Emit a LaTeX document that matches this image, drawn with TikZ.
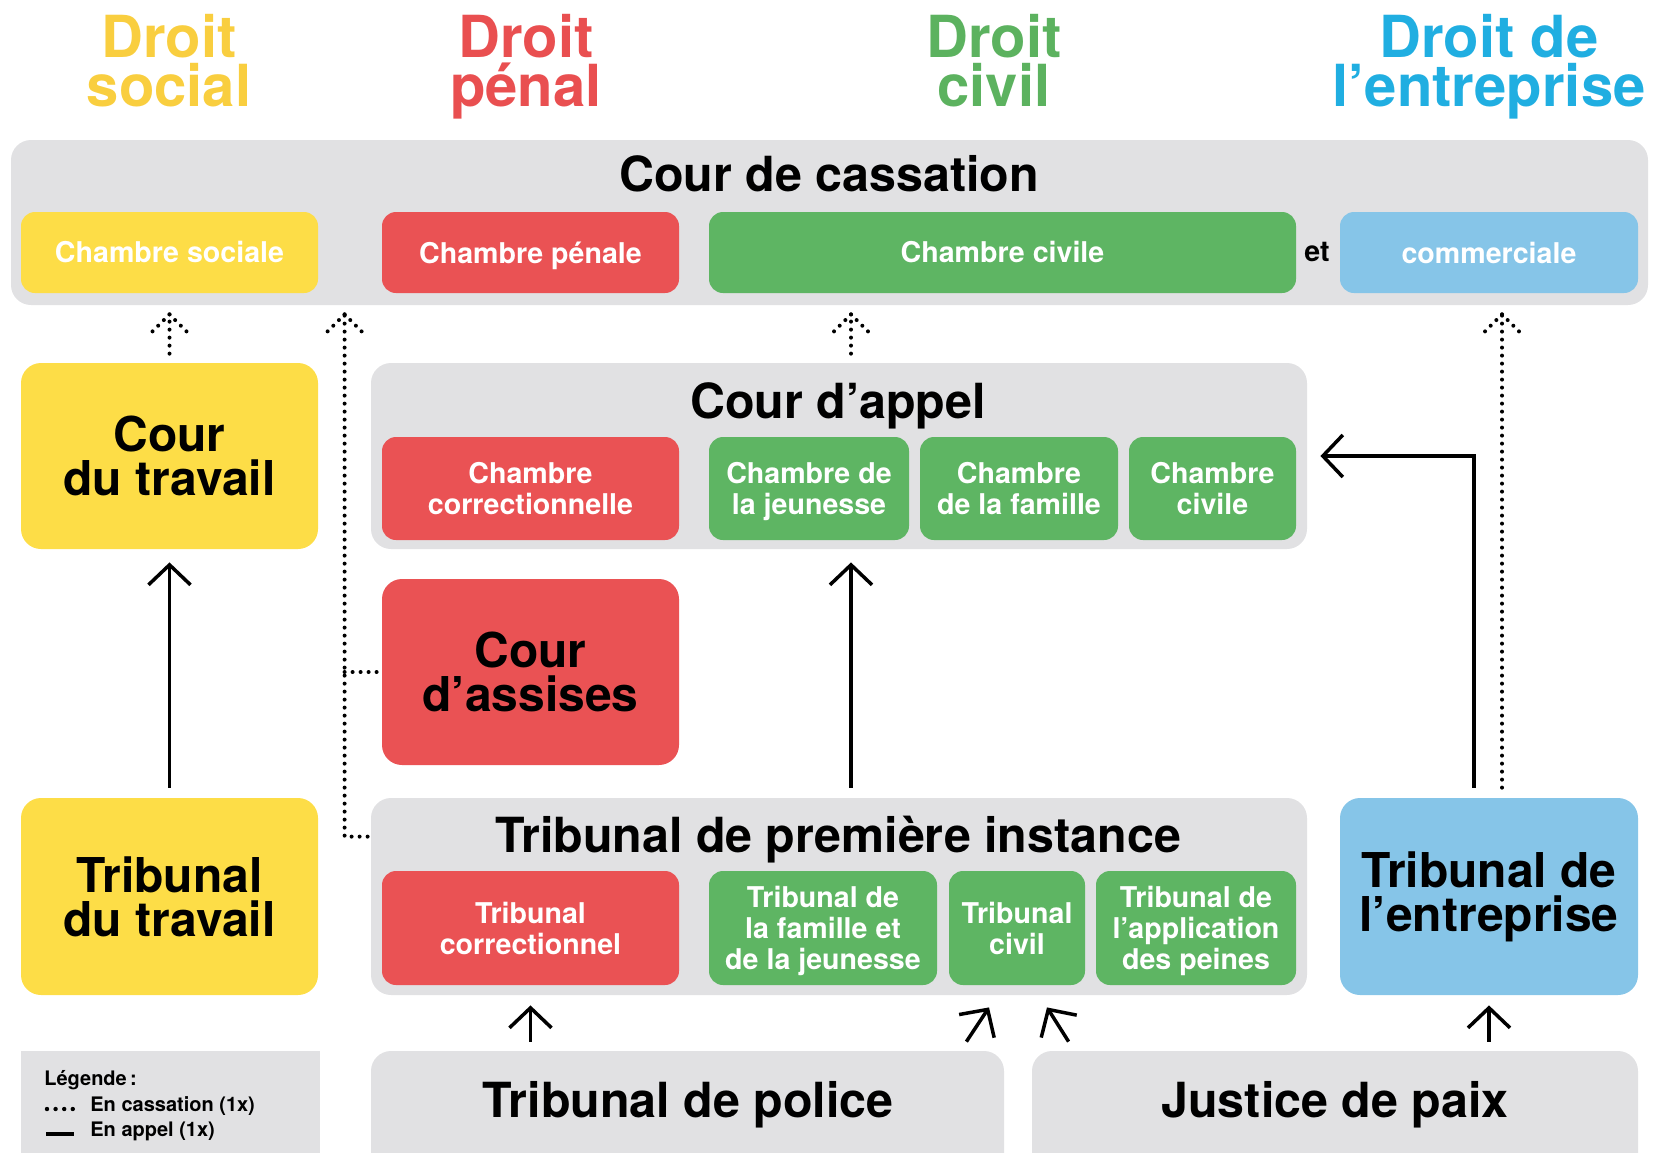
\documentclass[tikz,border=0pt]{standalone}
\usepackage{fontspec}
\setmainfont{TeX Gyre Heros}
\usepackage{tikz}
\usetikzlibrary{arrows.meta,fit,calc}
\definecolor{jgyellow}{HTML}{FDDD47}
\definecolor{jgred}{HTML}{EA5254}
\definecolor{jggreen}{HTML}{5EB563}
\definecolor{jgblue}{HTML}{86C5E8}
\definecolor{jggray}{HTML}{E1E1E3}
\definecolor{hdyellow}{HTML}{F9CE3F}
\definecolor{hdred}{HTML}{E94F50}
\definecolor{hdgreen}{HTML}{5CB25F}
\definecolor{hdblue}{HTML}{20AEE1}
% text without its descender depth
\newcommand{\nod}[1]{\raisebox{0pt}[\height][0pt]{#1}}
% dotted shaft with a dotted chevron at its tip
\newcommand{\cassup}[2]{%
  \draw[cass] (#1) -- (#2);
  \draw[cass] (#2) -- +(-19,19);
  \draw[cass] (#2) -- +(19,19);}

\begin{document}
\begin{tikzpicture}[x=0.5pt,y=-0.5pt,
  gbox/.style={fill=jggray,rounded corners=10pt,inner sep=0pt},
  cbox/.style={rounded corners=7pt,inner sep=0pt,
    label={[inner sep=0pt,text=white,align=center,
      font=\bfseries\fontsize{14.3}{15.5}\selectfont]center:#1}},
  bigbox/.style={rounded corners=10pt,inner sep=0pt,
    label={[inner sep=0pt,align=center,
      font=\bfseries\fontsize{24}{22}\selectfont]center:#1}},
  ttl/.style={anchor=base,inner sep=0pt,font=\bfseries\fontsize{24.2}{24}\selectfont},
  hdr/.style={anchor=north,inner sep=0pt,align=center,
    font=\bfseries\fontsize{29}{24.5}\selectfont},
  leg/.style={anchor=base west,inner sep=0pt,font=\bfseries\fontsize{10}{12}\selectfont},
  appel/.style={line width=1.75pt,-{Straight Barb[length=10pt,width=21pt]}},
  cass/.style={line width=2pt,line cap=round,dash pattern=on 0pt off 4pt}]
  \useasboundingbox (0,0) rectangle (1659,1152);
  \clip (0,0) rectangle (1659,1152);
  % branches
  \node[hdr,text=hdyellow] (hsoc) at (169,14) {Droit\\social};
  \node[hdr,text=hdred] (hpen) at (526,14) {Droit\\pénal};
  \node[hdr,text=hdgreen] (hciv) at (994,14) {Droit\\civil};
  \node[hdr,text=hdblue] (hent) at (1489,14) {Droit de\\l’entreprise};
  % Cour de cassation
  \node[gbox,fit={(11,140)(1648,305)}] (cass) {};
  \node[ttl] (casst) at (829,191) {Cour de cassation};
  \node[cbox={Chambre sociale},fill=jgyellow,fit={(21,212)(318,293)}] (chsoc) {};
  \node[cbox={\nod{Chambre pénale}},fill=jgred,fit={(382,212)(679,293)}] (chpen) {};
  \node[cbox={Chambre civile},fill=jggreen,fit={(709,212)(1296,293)}] (chciv) {};
  \node[inner sep=0pt,font=\bfseries\fontsize{14.3}{15.5}\selectfont] (et) at (1317,252) {et};
  \node[cbox={commerciale},fill=jgblue,fit={(1340,212)(1638,293)}] (chcom) {};
  % appeal level
  \node[bigbox={Cour\\du travail},fill=jgyellow,fit={(21,363)(318,549)}] (ctrav) {};
  \node[gbox,fit={(371,363)(1307,549)}] (cappel) {};
  \node[ttl] (cappelt) at (838,418) {Cour d’appel};
  \node[cbox={Chambre\\correctionnelle},fill=jgred,fit={(382,437)(679,540)}] (chcorr) {};
  \node[cbox={Chambre de\\\nod{la jeunesse}},fill=jggreen,fit={(709,437)(909,540)}] (chjeun) {};
  \node[cbox={Chambre\\de la famille},fill=jggreen,fit={(920,437)(1118,540)}] (chfam) {};
  \node[cbox={Chambre\\civile},fill=jggreen,fit={(1129,437)(1296,540)}] (chcivb) {};
  \node[bigbox={Cour\\d’assises},fill=jgred,fit={(382,579)(679,765)}] (assises) {};
  % first instance
  \node[bigbox={Tribunal\\du travail},fill=jgyellow,fit={(21,798)(318,995)}] (ttrav) {};
  \node[gbox,fit={(371,798)(1307,995)}] (tpi) {};
  \node[ttl] (tpit) at (838,852) {Tribunal de première instance};
  \node[cbox={Tribunal\\correctionnel},fill=jgred,fit={(382,871)(679,985)}] (tcorr) {};
  \node[cbox={Tribunal de\\la famille et\\\nod{de la jeunesse}},fill=jggreen,fit={(709,871)(937,985)}] (tfj) {};
  \node[cbox={Tribunal\\civil},fill=jggreen,fit={(949,871)(1085,985)}] (tciv) {};
  \node[cbox={Tribunal de\\l’application\\\nod{des peines}},fill=jggreen,fit={(1096,871)(1296,985)}] (tap) {};
  \node[bigbox={Tribunal de\\l’entreprise},fill=jgblue,fit={(1340,798)(1638,995)}] (tpe) {};
  % lowest courts
  \node[gbox,fit={(371,1051)(1004,1180)}] (police) {};
  \node[ttl] (policet) at (688,1117) {Tribunal de police};
  \node[gbox,fit={(1032,1051)(1638,1180)}] (jdp) {};
  \node[ttl] (jdpt) at (1335,1117) {Justice de paix};
  % legend
  \node[fill=jggray,inner sep=0pt,fit={(21,1051)(320,1160)}] (legbox) {};
  \node[leg] (legt) at (44,1085) {Légende\,:};
  \node[leg] (legc) at (90,1111) {En cassation (1x)};
  \node[leg] (lega) at (90,1136) {En appel (1x)};
  \draw[cass,line width=2.2pt,dash pattern=on 0pt off 4.3pt]
    ($(legc.base west)+(-43,-2)$) -- ($(legc.base west)+(-17,-2)$);
  \draw[line width=1.6pt] ($(lega.base west)+(-44,-2)$) -- ($(lega.base west)+(-16,-2)$);
  % appeals
  \draw[appel,shorten <=5pt,shorten >=6.5pt] (ttrav) -- (ctrav);
  \draw[appel,shorten <=5pt,shorten >=6.5pt] ([xshift=6pt]tpi.north) -- ([xshift=6pt]cappel.south);
  \draw[appel,shorten <=5pt,shorten >=6.5pt] ([xshift=-7.5pt]tpe.north) |- (cappel.east);
  \draw[appel] ([yshift=4.5pt]police.north -| tcorr.south) -- ([yshift=-5pt]tcorr.south |- tpi.south);
  \draw[appel] ([xshift=-19pt,yshift=4.5pt]police.north east) -- ([xshift=-14pt,yshift=-11pt]tciv.south);
  \draw[appel] ([xshift=18.5pt,yshift=4.5pt]jdp.north west) -- ([xshift=15pt,yshift=-11pt]tciv.south);
  \draw[appel] ([yshift=4.5pt]jdp.north -| tpe.south) -- ([yshift=-5pt]tpe.south);
  % cassation
  \coordinate (tsoc) at ($(ctrav.north |- cass.south)+(0,9)$);
  \coordinate (tpen) at ($(tpi.west |- cass.south)+(-26,9)$);
  \coordinate (tcivc) at ($([xshift=6pt]cappel.north |- cass.south)+(0,9)$);
  \coordinate (tent) at ($([xshift=6.5pt]tpe.north |- cass.south)+(0,9)$);
  \cassup{$(ctrav.north)+(0,-9)$}{tsoc}
  \cassup{$([xshift=6pt]cappel.north)+(0,-9)$}{tcivc}
  \cassup{$([xshift=6.5pt]tpe.north)+(0,-10)$}{tent}
  \draw[cass] ($(tpi.north west)+(-3,39)$) -| (tpen);
  \draw[cass] ($(assises.west)+(-5,0)$) -- (assises.west -| tpen);
  \draw[cass] (tpen) -- +(-19,19);
  \draw[cass] (tpen) -- +(19,19);
\end{tikzpicture}
\end{document}
